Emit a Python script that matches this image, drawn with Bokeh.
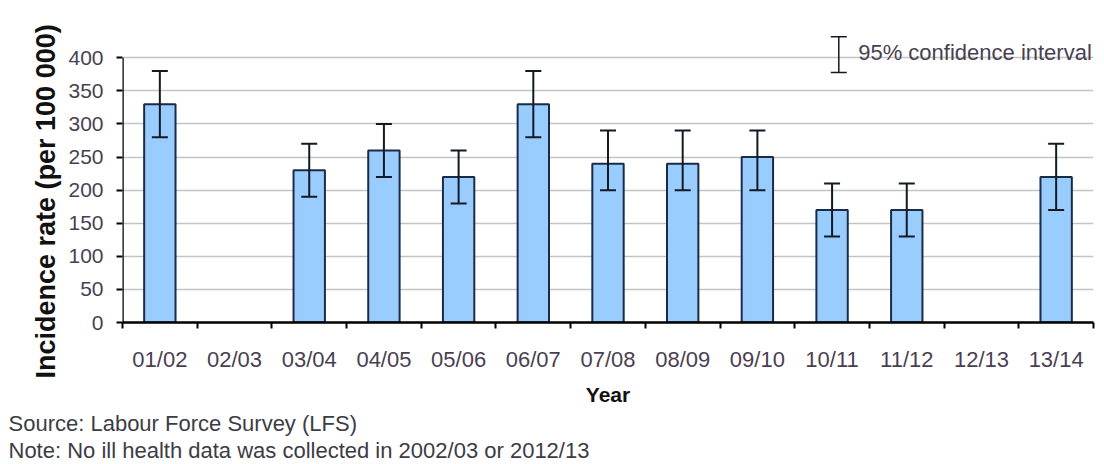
from bokeh.plotting import figure
from bokeh.models import ColumnDataSource, Whisker, TeeHead, FixedTicker, Label, Range1d, Title
from bokeh.embed import file_html
from bokeh.resources import INLINE

# Ill health incidence rate by survey year, with 95% confidence limits
years = ["01/02", "02/03", "03/04", "04/05", "05/06", "06/07", "07/08",
         "08/09", "09/10", "10/11", "11/12", "12/13", "13/14"]
rates = [330, None, 230, 260, 220, 330, 240, 240, 250, 170, 170, None, 220]
ci_low = [280, None, 190, 220, 180, 280, 200, 200, 200, 130, 130, None, 170]
ci_high = [380, None, 270, 300, 260, 380, 290, 290, 290, 210, 210, None, 270]
y_ticks = [0, 50, 100, 150, 200, 250, 300, 350, 400]

FONT = "Liberation Sans"
TEXT = "#4a3f52"
INK = "#141a24"

idx = [i for i, r in enumerate(rates) if r is not None]
src = ColumnDataSource(dict(
    x=idx,
    rate=[rates[i] for i in idx],
    lower=[ci_low[i] for i in idx],
    upper=[ci_high[i] for i in idx],
))

p = figure(width=1104, height=464, output_backend="svg", toolbar_location=None,
           x_range=Range1d(-0.5, len(years) - 0.5), y_range=Range1d(0, 456.4),
           min_border_left=122, min_border_right=11, min_border_top=20,
           min_border_bottom=142)
p.outline_line_color = None
p.background_fill_color = "white"
p.border_fill_color = "white"

# bars
p.vbar(x="x", top="rate", width=0.42, source=src, fill_color="#99ccff",
       line_color="#1b2b44", line_width=2)

# confidence interval whiskers
head_kw = dict(size=16, line_color=INK, line_width=2)
ci = Whisker(base="x", lower="lower", upper="upper", source=src,
             line_color=INK, line_width=2,
             upper_head=TeeHead(**head_kw), lower_head=TeeHead(**head_kw),
             level="overlay")
p.add_layout(ci)

# y axis
p.yaxis.ticker = FixedTicker(ticks=y_ticks)
p.yaxis.axis_line_color = None
p.yaxis.major_tick_out = 6
p.yaxis.major_tick_in = 0
p.yaxis.major_tick_line_width = 2
p.yaxis.major_tick_line_color = "black"
p.yaxis.minor_tick_line_color = None
p.yaxis.major_label_text_font = FONT
p.yaxis.major_label_text_font_size = "21px"
p.yaxis.major_label_text_color = TEXT
p.yaxis.major_label_standoff = 13
# y axis line stops at the top tick
p.segment(x0=[-0.5], y0=[y_ticks[0]], x1=[-0.5], y1=[y_ticks[-1]],
          line_color="black", line_width=2.5)

# y axis title, starting a little below the x axis
p.add_layout(Title(text="Incidence rate (per 100 000)", align="left", offset=-56,
                   text_font=FONT, text_font_size="27px", text_font_style="bold",
                   text_color="#111111", standoff=10), "left")

# x axis: labels under categories, ticks between them
p.xaxis.ticker = FixedTicker(ticks=list(range(len(years))),
                             minor_ticks=[i - 0.5 for i in range(len(years) + 1)])
p.xaxis.major_label_overrides = {i: y for i, y in enumerate(years)}
p.xaxis.major_tick_out = 0
p.xaxis.major_tick_in = 0
p.xaxis.minor_tick_out = 6
p.xaxis.minor_tick_in = 0
p.xaxis.minor_tick_line_width = 2
p.xaxis.minor_tick_line_color = "black"
p.xaxis.axis_line_width = 2.5
p.xaxis.axis_line_color = "black"
p.xaxis.major_label_text_font = FONT
p.xaxis.major_label_text_font_size = "22px"
p.xaxis.major_label_text_color = TEXT
p.xaxis.major_label_standoff = 18
p.xaxis.axis_label = "Year"
p.xaxis.axis_label_text_font = FONT
p.xaxis.axis_label_text_font_size = "21px"
p.xaxis.axis_label_text_font_style = "bold"
p.xaxis.axis_label_text_color = "#111111"
p.xaxis.axis_label_standoff = 8

# grid
p.xgrid.grid_line_color = None
p.ygrid.ticker = FixedTicker(ticks=y_ticks)
p.ygrid.grid_line_color = "#c4c4c4"
p.ygrid.grid_line_width = 1.5

# legend key for the confidence interval
key = ColumnDataSource(dict(x=[9.09], lower=[378], upper=[432]))
p.add_layout(Whisker(base="x", lower="lower", upper="upper", source=key,
                     line_color=INK, line_width=1.5,
                     upper_head=TeeHead(size=16, line_color=INK, line_width=1.5),
                     lower_head=TeeHead(size=16, line_color=INK, line_width=1.5),
                     level="overlay"))
p.add_layout(Label(x=9.35, y=408, text="95% confidence interval",
                   text_font=FONT, text_font_size="22px", text_color=TEXT,
                   text_baseline="middle"))

# footnotes under the x axis, flush with the left edge
for text in ["Source: Labour Force Survey (LFS)",
             "Note: No ill health data was collected in 2002/03 or 2012/13"]:
    p.add_layout(Title(text=text, align="left", offset=-114, standoff=0,
                       text_font=FONT, text_font_size="22px", text_font_style="normal",
                       text_color="#3c3c44"), "below")

open("out.html", "w").write(file_html(p, INLINE))
